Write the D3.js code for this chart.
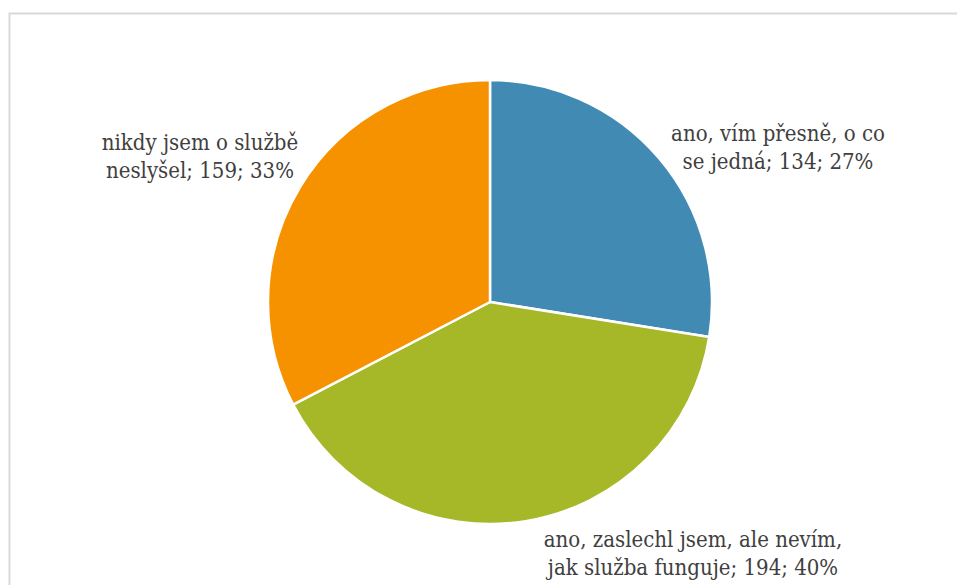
<!DOCTYPE html>
<html><head><meta charset="utf-8">
<script src="https://cdn.jsdelivr.net/npm/d3@7"></script>
<style>html,body{margin:0;padding:0;background:#fff;}</style>
</head><body>
<svg id="c" width="957" height="585"></svg>
<script>
const categories = ["ano, vím přesně, o co se jedná", "ano, zaslechl jsem, ale nevím, jak služba funguje", "nikdy jsem o službě neslyšel"];
const values = [134, 194, 159];
const percents = ["27%", "40%", "33%"];
const labelLines = [
  ["ano, vím přesně, o co", "se jedná; 134; 27%"],
  ["ano, zaslechl jsem, ale nevím,", "jak služba funguje; 194; 40%"],
  ["nikdy jsem o službě", "neslyšel; 159; 33%"]
];
const colors = ["#418ab3", "#a6b727", "#f69200"];

const svg = d3.select("#c");
svg.append("rect").attr("x", 9.5).attr("y", 13.5).attr("width", 1000).attr("height", 1000)
  .attr("fill", "#fff").attr("stroke", "#d9d9d9").attr("stroke-width", 2);

const cx = 490, cy = 302, r = 222;
const pie = d3.pie().sort(null).value(d => d)(values);
const arc = d3.arc().innerRadius(0).outerRadius(r);
const g = svg.append("g").attr("transform", `translate(${cx},${cy})`);
g.selectAll("path").data(pie).join("path")
  .attr("d", arc).attr("fill", (d, i) => colors[i])
  .attr("stroke", "#fff").attr("stroke-width", 2.5).attr("stroke-linejoin", "round");

const labelPos = [[778, 141], [693, 547], [200, 150]];
const lab = svg.append("g").attr("font-family", "'DejaVu Serif Condensed', 'DejaVu Serif', serif")
  .attr("font-stretch", "condensed").attr("font-size", 22).attr("fill", "#404040");
labelLines.forEach((lines, i) => {
  const t = lab.append("text").attr("text-anchor", "middle")
    .attr("x", labelPos[i][0]).attr("y", labelPos[i][1]);
  lines.forEach((s, j) => t.append("tspan").attr("x", labelPos[i][0]).attr("dy", j === 0 ? 0 : 28).text(s));
});
</script>
</body></html>
